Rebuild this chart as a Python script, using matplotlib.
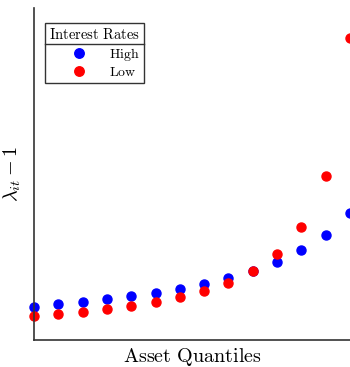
import numpy as np
import matplotlib
matplotlib.use("Agg")
import matplotlib.pyplot as plt
from matplotlib.lines import Line2D

plt.rcParams["mathtext.fontset"] = "cm"
plt.rcParams["font.family"] = ["DejaVu Serif"]

# data (arbitrary units)
quantiles = np.arange(14)
high_rates = [0.33, 0.36, 0.38, 0.41, 0.44, 0.47, 0.51, 0.56, 0.62, 0.69, 0.78, 0.90, 1.05, 1.27]
low_rates = [0.24, 0.26, 0.28, 0.31, 0.34, 0.38, 0.43, 0.49, 0.57, 0.69, 0.86, 1.13, 1.64, 3.02]

fig = plt.figure(figsize=(3.5, 3.67), dpi=100)
ax = fig.add_axes([34 / 350, 1 - 340 / 367, 1 - 34 / 350, 332 / 367])

ax.plot(quantiles, high_rates, "o", color="blue", markersize=6.5, label=r"$\mathrm{High}$", clip_on=False)
ax.plot(quantiles, low_rates, "o", color="red", markersize=6.5, label=r"$\mathrm{Low}$", clip_on=False)

ax.set_xlim(0, 13)
ax.set_ylim(0, 3.32)
ax.set_xticks([])
ax.set_yticks([])
for side in ["top", "right"]:
    ax.spines[side].set_visible(False)
for side in ["left", "bottom"]:
    ax.spines[side].set_color("#333333")
    ax.spines[side].set_linewidth(1.2)

ax.set_xlabel(r"$\mathrm{Asset\ Quantiles}$", fontsize=14.5, labelpad=4)
ax.set_ylabel(r"$\lambda_{it} - 1$", fontsize=14.5, labelpad=8)

leg = ax.legend(title=r"$\mathrm{Interest\ Rates}$", loc="upper left",
                bbox_to_anchor=(0.035, 0.955), borderaxespad=0, fancybox=False,
                edgecolor="#333333", framealpha=1, fontsize=10, title_fontsize=10.5,
                handletextpad=0.1, borderpad=0.3, labelspacing=0.1, handlelength=4.2,
                markerscale=1.05)
leg.get_frame().set_linewidth(1.0)
leg._legend_box.sep = 3

# line under the legend title
fig.canvas.draw()
bb = leg.get_window_extent()
tb = leg.get_title().get_window_extent()
inv = fig.transFigure.inverted()
y_sep = tb.y0 - 2
(x0, y0) = inv.transform((bb.x0, y_sep))
(x1, _) = inv.transform((bb.x1, y_sep))
fig.add_artist(Line2D([x0, x1], [y0, y0], color="#333333", linewidth=1.0))

fig.savefig("out.png", dpi=100)
